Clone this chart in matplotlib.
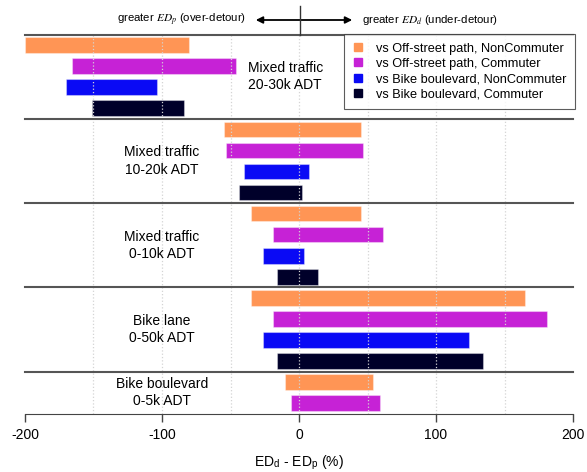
import matplotlib
matplotlib.use('Agg')
import matplotlib.pyplot as plt
from matplotlib.lines import Line2D
from matplotlib.patches import FancyArrowPatch

plt.rcParams['font.family'] = 'Liberation Sans'
plt.rcParams['mathtext.fontset'] = 'stix'

# Data: ranges (low, high) of ED_d - ED_p (%) per facility group
groups = ['Mixed traffic\n20-30k ADT', 'Mixed traffic\n10-20k ADT', 'Mixed traffic\n0-10k ADT',
          'Bike lane\n0-50k ADT', 'Bike boulevard\n0-5k ADT']
series = ['vs Off-street path, NonCommuter', 'vs Off-street path, Commuter',
          'vs Bike boulevard, NonCommuter', 'vs Bike boulevard, Commuter']

off_nc_low = [-200, -55, -35, -35, -10]
off_nc_high = [-80, 45, 45, 165, 54]
off_c_low = [-166, -53, -19, -19, -6]
off_c_high = [-46, 47, 61, 181, 59]
bb_nc_low = [-170, -40, -26, -26, None]
bb_nc_high = [-104, 7, 4, 124, None]
bb_c_low = [-151, -44, -16, -16, None]
bb_c_high = [-84, 2, 14, 134, None]

lows = [off_nc_low, off_c_low, bb_nc_low, bb_c_low]
highs = [off_nc_high, off_c_high, bb_nc_high, bb_c_high]
colors = ['#FF9555', '#C622D6', '#0A0AF5', '#00002A']

group_start = [0, 4, 8, 12, 16]
label_x = [-10, -100, -100, -100, -100]

W, H = 587, 472
fig = plt.figure(figsize=(W / 100, H / 100), dpi=100)
ax = fig.add_axes([25 / W, 1 - 414 / H, 548 / W, (414 - 34.5) / H])

for s in range(4):
    for g in range(len(groups)):
        lo, hi = lows[s][g], highs[s][g]
        if lo is None:
            continue
        ax.barh(group_start[g] + s, hi - lo, left=lo, height=0.74, color=colors[s],
                edgecolor=(1, 1, 1, 0.35), linewidth=0.8, zorder=2)

# dotted grid over the bars
for xv in range(-150, 151, 50):
    ax.axvline(xv, color='#d4d4d4', ls=':', lw=0.9, zorder=2.5)

# group separators
for sep in [-0.5, 3.5, 7.5, 11.5, 15.5]:
    ax.axhline(sep, color='#555555', lw=1.5, zorder=3, clip_on=False)

# group labels
for g, lab in enumerate(groups):
    n = 4 if g < 4 else 2
    yc = group_start[g] + (n - 1) / 2
    ax.text(label_x[g], yc, lab, ha='center', va='center', fontsize=10, linespacing=1.3, zorder=4)

ax.set_xlim(-200, 200)
ax.set_ylim(17.51, -0.5)
ax.set_yticks([])
ax.set_xticks([-200, -100, 0, 100, 200])
ax.set_xticklabels(['-200', '-100', '0', '100', '200'])
ax.tick_params(axis='x', length=6, width=1, color='#444444', labelsize=10, pad=4)
for side in ['left', 'right', 'top']:
    ax.spines[side].set_visible(False)
ax.spines['bottom'].set_color('#444444')
ax.set_xlabel('ED$_\\mathregular{d}$ - ED$_\\mathregular{p}$ (%)', fontsize=10, labelpad=8)

handles = [Line2D([], [], marker='s', color=c, ls='none', markersize=5.5) for c in colors]
leg = fig.legend(handles, series, loc='upper right', bbox_to_anchor=(575 / W, 1 - 34.3 / H),
                 frameon=True, fancybox=False, edgecolor='#333333', fontsize=9.2,
                 handlelength=1, handletextpad=0.9, labelspacing=0.26, borderaxespad=0,
                 borderpad=0.65)
leg.get_frame().set_linewidth(0.8)

# direction annotation above the plot
fig.add_artist(Line2D([300 / W, 300 / W], [1 - 6 / H, 1 - 34.5 / H],
                      transform=fig.transFigure, color='#333333', lw=1))
fig.add_artist(FancyArrowPatch((253 / W, 1 - 20 / H), (355 / W, 1 - 20 / H),
                               transform=fig.transFigure, arrowstyle='<|-|>',
                               mutation_scale=10, color='black', lw=1.3))
fig.text(246 / W, 1 - 20 / H, 'greater $ED_p$ (over-detour)', ha='right', va='center', fontsize=8.2)
fig.text(362 / W, 1 - 20 / H, 'greater $ED_d$ (under-detour)', ha='left', va='center', fontsize=8.2)

fig.savefig('out.png', dpi=100)
